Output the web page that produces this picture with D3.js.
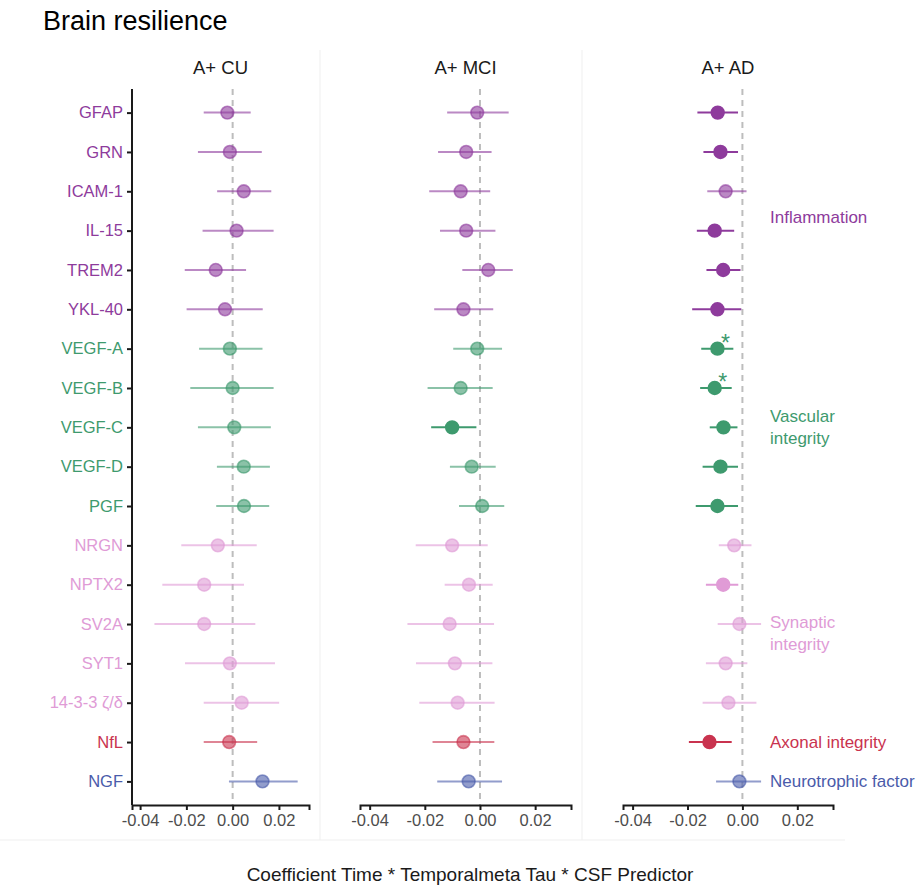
<!DOCTYPE html>
<html>
<head>
<meta charset="utf-8">
<script src="https://cdn.jsdelivr.net/npm/d3@7"></script>
<style>
  body { margin: 0; background: #fff; }
  svg text { font-family: "Liberation Sans", Arial, Helvetica, sans-serif; }
</style>
</head>
<body>
<svg id="chart" width="919" height="885"></svg>
<script>
// biomarkers, top to bottom
var markers = ["GFAP","GRN","ICAM-1","IL-15","TREM2","YKL-40","VEGF-A","VEGF-B","VEGF-C","VEGF-D","PGF",
               "NRGN","NPTX2","SV2A","SYT1","14-3-3 \u03b6/\u03b4","NfL","NGF"];
var groups = ["infl","infl","infl","infl","infl","infl","vasc","vasc","vasc","vasc","vasc",
              "syn","syn","syn","syn","syn","axon","neuro"];
var panels = ["A+ CU","A+ MCI","A+ AD"];

// estimates and 95% CI per panel
var cuEst = [-0.0023,-0.0012,0.0048,0.0017,-0.0073,-0.0033,-0.0012,0.0000,0.0007,0.0048,0.0049,-0.0064,-0.0123,-0.0123,-0.0012,0.0039,-0.0015,0.0129];
var cuLo  = [-0.0125,-0.0150,-0.0067,-0.0130,-0.0207,-0.0199,-0.0145,-0.0183,-0.0150,-0.0068,-0.0071,-0.0222,-0.0304,-0.0338,-0.0206,-0.0125,-0.0125,-0.0016];
var cuHi  = [0.0078,0.0126,0.0167,0.0177,0.0058,0.0130,0.0129,0.0177,0.0165,0.0161,0.0158,0.0104,0.0049,0.0098,0.0183,0.0201,0.0106,0.0281];
var cuSig = [0,0,0,0,0,0,0,0,0,0,0,0,0,0,0,0,0,0];

var mciEst = [-0.0010,-0.0050,-0.0070,-0.0050,0.0030,-0.0060,-0.0010,-0.0070,-0.0101,-0.0030,0.0008,-0.0101,-0.0040,-0.0110,-0.0091,-0.0081,-0.0060,-0.0041];
var mciLo  = [-0.0119,-0.0152,-0.0184,-0.0145,-0.0064,-0.0166,-0.0097,-0.0190,-0.0177,-0.0109,-0.0076,-0.0233,-0.0128,-0.0263,-0.0232,-0.0220,-0.0172,-0.0155];
var mciHi  = [0.0104,0.0042,0.0037,0.0056,0.0119,0.0048,0.0080,0.0046,-0.0013,0.0057,0.0088,0.0028,0.0046,0.0051,0.0045,0.0053,0.0052,0.0080];
var mciSig = [0,0,0,0,0,0,0,0,1,0,0,0,0,0,0,0,0,0];

var adEst = [-0.0090,-0.0080,-0.0061,-0.0101,-0.0070,-0.0091,-0.0091,-0.0101,-0.0069,-0.0080,-0.0091,-0.0030,-0.0070,-0.0011,-0.0061,-0.0051,-0.0120,-0.0011];
var adLo  = [-0.0164,-0.0142,-0.0128,-0.0166,-0.0131,-0.0183,-0.0150,-0.0154,-0.0119,-0.0145,-0.0170,-0.0086,-0.0133,-0.0090,-0.0133,-0.0145,-0.0195,-0.0096];
var adHi  = [-0.0016,-0.0016,0.0015,-0.0030,-0.0007,-0.0004,-0.0033,-0.0039,-0.0018,-0.0016,-0.0016,0.0033,-0.0015,0.0068,0.0018,0.0051,-0.0039,0.0068];
var adSig = [1,1,0,1,1,1,1,1,1,1,1,0,1,0,0,0,1,0];
var adStar = [0,0,0,0,0,0,1,1,0,0,0,0,0,0,0,0,0,0];

var xTicks = [-0.04,-0.02,0.00,0.02];
var groupLabels = [["Inflammation"],["Vascular","integrity"],["Synaptic","integrity"],["Axonal integrity"],["Neurotrophic factor"]];
var groupKeys = ["infl","vasc","syn","axon","neuro"];
var groupAnchor = ["ICAM-1","VEGF-C","SV2A","NfL","NGF"];

var colors = {infl:"#8E3B9C", vasc:"#3E9A6E", syn:"#E09BD6", axon:"#C9334F", neuro:"#4A5BAA"};

var svg = d3.select("#chart");
var fadeA = 0.6;

// panel frames (patchwork style thin borders)
svg.append("line").attr("x1",320).attr("x2",320).attr("y1",50).attr("y2",840).attr("stroke","#efefef");
svg.append("line").attr("x1",582).attr("x2",582).attr("y1",50).attr("y2",840).attr("stroke","#efefef");
svg.append("line").attr("x1",0).attr("x2",845).attr("y1",840).attr("y2",840).attr("stroke","#efefef");

svg.append("text").attr("x",43).attr("y",30).attr("font-size",27).attr("fill","#000").text("Brain resilience");

var y = d3.scalePoint().domain(markers).range([89, 805]).padding(0.6);
var xDomain = [-0.0435, 0.033];
var panelRanges = [[132,309],[360,571],[623,833]];
var panelData = [
  {est:cuEst, lo:cuLo, hi:cuHi, sig:cuSig},
  {est:mciEst, lo:mciLo, hi:mciHi, sig:mciSig},
  {est:adEst, lo:adLo, hi:adHi, sig:adSig}
];

panelData.forEach(function(pd, p){
  var x = d3.scaleLinear().domain(xDomain).range(panelRanges[p]);
  var g = svg.append("g");

  g.append("text").attr("x",(panelRanges[p][0]+panelRanges[p][1])/2).attr("y",74)
    .attr("text-anchor","middle").attr("font-size",18.5).attr("fill","#1a1a1a").text(panels[p]);

  // zero reference
  g.append("line").attr("x1",x(0)).attr("x2",x(0)).attr("y1",89).attr("y2",805)
    .attr("stroke","#bdbdbd").attr("stroke-width",2).attr("stroke-dasharray","6,5");

  var rows = markers.map(function(m,i){
    return {m:m, grp:groups[i], est:pd.est[i], lo:pd.lo[i], hi:pd.hi[i], sig:pd.sig[i]};
  });

  g.selectAll("line.ci").data(rows).join("line").attr("class","ci")
    .attr("x1",function(d){ return x(d.lo); })
    .attr("x2",function(d){ return x(d.hi); })
    .attr("y1",function(d){ return y(d.m); })
    .attr("y2",function(d){ return y(d.m); })
    .attr("stroke",function(d){ return colors[d.grp]; })
    .attr("stroke-opacity",function(d){ return d.sig ? 1 : fadeA; })
    .attr("stroke-width",2);

  g.selectAll("circle.pt").data(rows).join("circle").attr("class","pt")
    .attr("cx",function(d){ return x(d.est); })
    .attr("cy",function(d){ return y(d.m); })
    .attr("r",6.4)
    .attr("fill",function(d){ return colors[d.grp]; })
    .attr("fill-opacity",function(d){ return d.sig ? 1 : fadeA; })
    .attr("stroke",function(d){ return colors[d.grp]; })
    .attr("stroke-opacity",function(d){ return d.sig ? 1 : fadeA; })
    .attr("stroke-width",1.6);

  // x axis
  var xa = g.append("g").attr("transform","translate(0,805)")
    .call(d3.axisBottom(x).tickValues(xTicks).tickFormat(d3.format(".2f")).tickSize(5).tickPadding(4));
  xa.select(".domain").attr("stroke","#1a1a1a").attr("stroke-width",2);
  xa.selectAll(".tick line").attr("stroke","#1a1a1a").attr("stroke-width",2);
  xa.selectAll(".tick text").attr("font-size",16.5).attr("fill","#4d4d4d")
    .text(function(d){ return d3.format(".2f")(d).replace("\u2212","-"); });

  if (p === 0) {
    var ya = g.append("g").attr("transform","translate(132,0)")
      .call(d3.axisLeft(y).tickSize(5).tickPadding(4));
    ya.select(".domain").attr("stroke","#1a1a1a").attr("stroke-width",2)
      .attr("d","M0,89V805");
    ya.selectAll(".tick line").attr("stroke","#1a1a1a").attr("stroke-width",2);
    ya.selectAll(".tick text").attr("font-size",16.5)
      .attr("fill",function(d){ return colors[groups[markers.indexOf(d)]]; });
  }

  if (p === 2) {
    var starRows = rows.filter(function(d,i){ return adStar[i]; });
    g.selectAll("text.star").data(starRows).join("text").attr("class","star")
      .attr("x",function(d){ return x(d.est) + 8; })
      .attr("y",function(d){ return y(d.m) + 2; })
      .attr("text-anchor","middle").attr("font-size",23)
      .attr("fill",function(d){ return colors[d.grp]; }).text("*");

    groupKeys.forEach(function(k, j){
      var lines = groupLabels[j];
      var cy = y(groupAnchor[j]);
      if (k === "infl") cy = y("ICAM-1") + 26;
      if (k === "syn") cy = y("SV2A") + 9;
      var t = g.append("text").attr("x",770).attr("font-size",17).attr("fill",colors[k]);
      lines.forEach(function(s, li){
        t.append("tspan").attr("x",770)
          .attr("y", cy + 6 + (li - (lines.length-1)/2) * 22)
          .text(s);
      });
    });
  }
});

svg.append("text").attr("x",470).attr("y",881).attr("text-anchor","middle")
  .attr("font-size",19).attr("fill","#1a1a1a")
  .text("Coefficient Time * Temporalmeta Tau * CSF Predictor");
</script>
</body>
</html>
